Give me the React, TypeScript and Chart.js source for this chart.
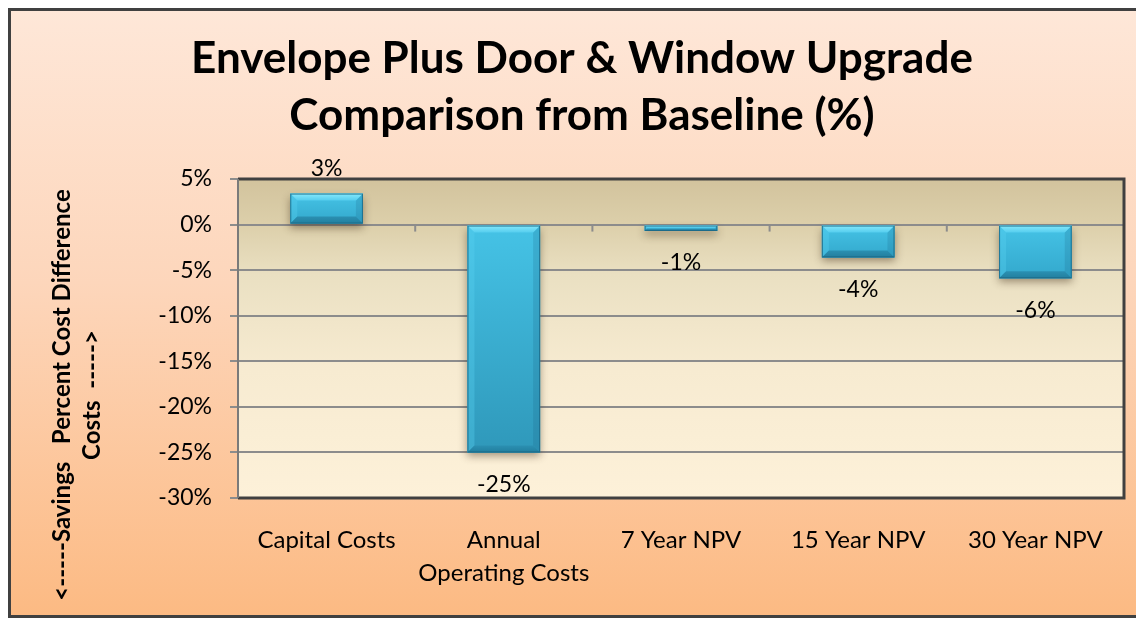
import React, { useEffect, useRef } from "react";
import { Chart, registerables } from "chart.js";

Chart.register(...registerables);

// ---- data ----
const categories: (string | string[])[] = [
  "Capital Costs",
  ["Annual", "Operating Costs"],
  "7 Year NPV",
  "15 Year NPV",
  "30 Year NPV",
];
const values: number[] = [3.4, -25.0, -0.7, -3.6, -5.9];
const yMin = -30;
const yMax = 5;
const yStep = 5;
const titleLines: string[] = ["Envelope Plus Door & Window Upgrade", "Comparison from Baseline (%)"];
const yTitleLines: string[] = ["<-----Savings   Percent Cost Difference", "Costs  ----->"];

const FONT = "Lato, 'Open Sans', sans-serif";

const fmtPct = (v: number) => {
  const r = Math.sign(v) * Math.round(Math.abs(v));
  return `${r}%`;
};

const plotBg = {
  id: "plotBg",
  beforeDraw(chart: any) {
    const { ctx, chartArea: a } = chart;
    const g = ctx.createLinearGradient(0, a.top, 0, a.bottom);
    g.addColorStop(0, "#d2c39d");
    g.addColorStop(0.14, "#dccfaa");
    g.addColorStop(0.3, "#eae0c2");
    g.addColorStop(0.6, "#f7ebd1");
    g.addColorStop(1, "#fdf1d9");
    ctx.save();
    ctx.fillStyle = g;
    ctx.fillRect(a.left, a.top, a.right - a.left, a.bottom - a.top);
    ctx.restore();
  },
};

const barShadow = {
  id: "barShadow",
  beforeDatasetsDraw(chart: any) {
    const ctx = chart.ctx;
    ctx.save();
    ctx.shadowColor = "rgba(60,40,20,0.45)";
    ctx.shadowBlur = 8;
    ctx.shadowOffsetX = 0;
    ctx.shadowOffsetY = 4;
  },
  afterDatasetsDraw(chart: any) {
    const ctx = chart.ctx;
    ctx.restore();
    const meta = chart.getDatasetMeta(0);
    meta.data.forEach((bar: any) => {
      const p = bar.getProps(["x", "y", "base", "width"], true);
      const L = p.x - p.width / 2;
      const R = p.x + p.width / 2;
      const T = Math.min(p.y, p.base);
      const B = Math.max(p.y, p.base);
      const h = B - T;
      const b = Math.min(7, h / 2.5);
      ctx.save();
      // face
      const g = ctx.createLinearGradient(0, T, 0, B);
      g.addColorStop(0, "#45c3e6");
      g.addColorStop(1, h > 60 ? "#2f98ba" : "#33a8cc");
      ctx.fillStyle = g;
      ctx.fillRect(L, T, R - L, h);
      const poly = (pts: number[][], fill: any) => {
        ctx.beginPath();
        ctx.moveTo(pts[0][0], pts[0][1]);
        for (let i = 1; i < pts.length; i++) ctx.lineTo(pts[i][0], pts[i][1]);
        ctx.closePath();
        ctx.fillStyle = fill;
        ctx.fill();
      };
      // left / right bevels
      poly([[L, T], [L + b, T + b], [L + b, B - b], [L, B]], "rgba(90,210,240,0.35)");
      poly([[R, T], [R - b, T + b], [R - b, B - b], [R, B]], "rgba(20,90,120,0.18)");
      // top bevel
      const gt = ctx.createLinearGradient(0, T, 0, T + b);
      gt.addColorStop(0, "#86e9fc");
      gt.addColorStop(1, "#55cdee");
      poly([[L, T], [R, T], [R - b, T + b], [L + b, T + b]], gt);
      // bottom bevel
      const gb = ctx.createLinearGradient(0, B - b, 0, B);
      gb.addColorStop(0, "#2b90b2");
      gb.addColorStop(1, "#227e9e");
      poly([[L, B], [R, B], [R - b, B - b], [L + b, B - b]], gb);
      ctx.strokeStyle = "rgba(25,100,130,0.8)";
      ctx.lineWidth = 1;
      ctx.strokeRect(L + 0.5, T + 0.5, R - L - 1, h - 1);
      ctx.restore();
    });
  },
};

const decor = {
  id: "decor",
  afterDraw(chart: any) {
    const { ctx, chartArea: a, scales } = chart;
    const xs = scales.x;
    const ys = scales.y;
    ctx.save();
    // zero-line tick marks at category boundaries
    const y0 = ys.getPixelForValue(0);
    const n = categories.length;
    const cw = (a.right - a.left) / n;
    ctx.strokeStyle = "#8c8c8c";
    ctx.lineWidth = 2;
    for (let i = 1; i <= n; i++) {
      const x = xs.getPixelForValue(i - 1) + cw / 2;
      ctx.beginPath();
      ctx.moveTo(x, y0);
      ctx.lineTo(x, y0 + 7);
      ctx.stroke();
    }
    // plot border
    ctx.strokeStyle = "#404040";
    ctx.lineWidth = 3;
    ctx.beginPath();
    ctx.moveTo(a.left, a.top);
    ctx.lineTo(a.right, a.top);
    ctx.lineTo(a.right, a.bottom);
    ctx.lineTo(a.left, a.bottom);
    ctx.stroke();
    ctx.strokeStyle = "#7a7a7a";
    ctx.lineWidth = 2;
    ctx.beginPath();
    ctx.moveTo(a.left, a.top);
    ctx.lineTo(a.left, a.bottom);
    ctx.stroke();

    // data labels
    ctx.fillStyle = "#000";
    ctx.font = `23px ${FONT}`;
    ctx.textAlign = "center";
    ctx.textBaseline = "middle";
    const meta = chart.getDatasetMeta(0);
    meta.data.forEach((bar: any, i: number) => {
      const v = values[i];
      const p = bar.getProps(["x", "y"], true);
      const y = v >= 0 ? p.y - 25 : p.y + 32;
      ctx.fillText(fmtPct(v), p.x, y);
    });

    // title
    ctx.font = `bold 44px ${FONT}`;
    ctx.textBaseline = "alphabetic";
    ctx.fillText(titleLines[0], 571, 62);
    ctx.fillText(titleLines[1], 571, 119);

    // y-axis title
    ctx.font = `bold 24px ${FONT}`;
    ctx.translate(0, 384);
    ctx.rotate(-Math.PI / 2);
    ctx.textBaseline = "middle";
    ctx.fillText(yTitleLines[0], 0, 51);
    ctx.fillText(yTitleLines[1], 0, 81);
    ctx.restore();
  },
};

export default function App() {
  const ref = useRef<HTMLCanvasElement | null>(null);
  useEffect(() => {
    if (!ref.current) return;
    const chart = new Chart(ref.current, {
      type: "bar",
      data: {
        labels: categories,
        datasets: [
          {
            data: values,
            backgroundColor: "#38b0d4",
            borderWidth: 0,
            barPercentage: 0.41,
            categoryPercentage: 1,
          },
        ],
      },
      options: {
        responsive: false,
        maintainAspectRatio: false,
        animation: false,
        layout: { padding: { top: 168, right: 20, left: 0, bottom: 0 } },
        plugins: {
          legend: { display: false },
          tooltip: { enabled: false },
          title: { display: false },
        },
        scales: {
          x: {
            grid: { display: false },
            border: { display: false },
            ticks: {
              color: "#000",
              font: { family: FONT, size: 24, lineHeight: 1.375 },
              padding: 18,
              maxRotation: 0,
              autoSkip: false,
            },
            afterFit: (s: any) => {
              s.height = 117;
            },
          },
          y: {
            min: yMin,
            max: yMax,
            grid: { color: "#8c8c8c", lineWidth: 2, tickLength: 8, drawTicks: true },
            border: { display: false },
            ticks: {
              stepSize: yStep,
              color: "#000",
              font: { family: FONT, size: 23 },
              padding: 18,
              callback: (v: any) => `${v}%`,
            },
            afterFit: (s: any) => {
              s.width = 227;
            },
          },
        },
      },
      plugins: [plotBg, barShadow, decor],
    });
    return () => chart.destroy();
  }, []);

  return (
    <div
      style={{
        width: 1136,
        height: 610,
        boxSizing: "border-box",
        borderLeft: "3px solid #404040",
        borderTop: "3px solid #404040",
        borderBottom: "3px solid #404040",
        background: "linear-gradient(to bottom, #fee7d8 0%, #fdd6bb 45%, #fcba83 100%)",
      }}
    >
      <canvas ref={ref} width={1133} height={604} style={{ display: "block" }} />
    </div>
  );
}
